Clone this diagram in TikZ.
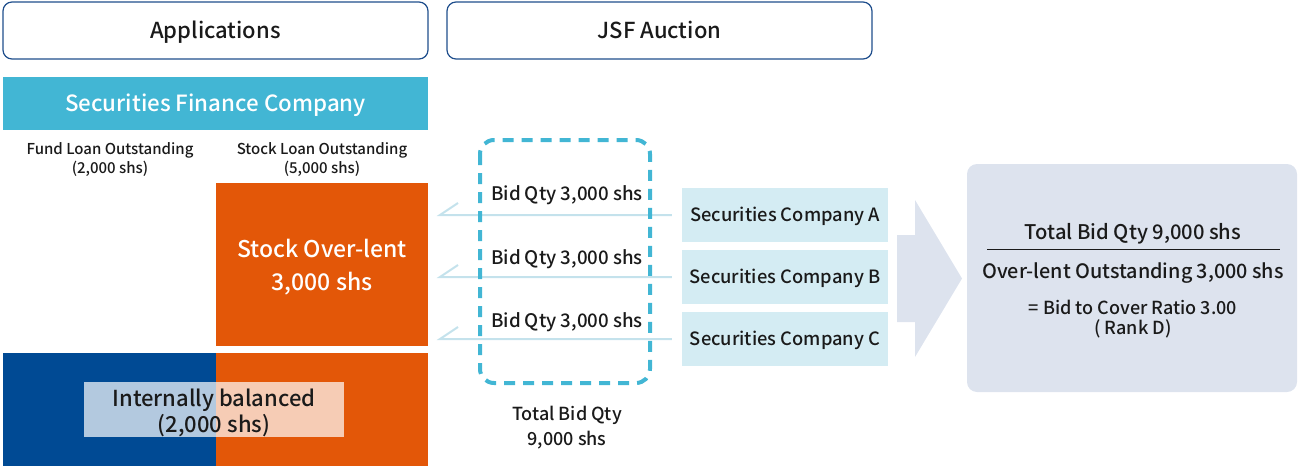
\documentclass[tikz,border=0pt]{standalone}
\usepackage{fontspec}
\setmainfont{Noto Sans CJK JP}[UprightFont={* Medium}, BoldFont={* Bold}]
\usetikzlibrary{calc}
\definecolor{hdrblue}{HTML}{1F4E8C}
\definecolor{sfcblue}{HTML}{42B6D4}
\definecolor{lendorange}{HTML}{E35708}
\definecolor{fundblue}{HTML}{004A94}
\definecolor{compblue}{HTML}{D4ECF3}
\definecolor{bidcol}{HTML}{C4E2EC}
\definecolor{resgray}{HTML}{DDE3EE}
\definecolor{txt}{HTML}{1A1A1A}
\def\fs#1#2{\fontsize{#1}{#2}\selectfont}
\tikzset{
	header/.style={draw=hdrblue, line width=1.2pt, rounded corners=9pt, minimum width=425pt, minimum height=57pt, font=\fs{22}{26}, text=txt, text height=20.5pt, text depth=4.4pt},
	compbox/.style={fill=compblue, minimum width=206pt, minimum height=54pt, font=\fs{18.3}{22}, text=txt, text height=17.1pt, text depth=3.7pt},
	bidlabel/.style={font=\fs{18.7}{22}, text=txt, text height=17.5pt, text depth=3.8pt},
	smalltxt/.style={font=\fs{15}{19}, text=txt, align=center},
	bidarrow/.style={draw=bidcol, line width=2pt},
	restxt/.style={text=txt, font=\fs{20.2}{24}, text height=18.9pt, text depth=4.1pt}
}

\begin{document}
\begin{tikzpicture}[x=1pt, y=-1pt]
			%%%%% START %%%%%
			\useasboundingbox (0,0) rectangle (1300,471);
			
			\node[header] (app) at (215.5, 30.5) {Applications};
			\node[header] (jsf) at (659.5, 30.5) {JSF Auction};
			
			\node[fill=sfcblue, text=white, minimum width=425pt, minimum height=53pt, font=\fs{22.3}{27}, text height=20.9pt, text depth=4.5pt] (sfc) at (215.5, 103.5) {Securities Finance Company};
			\node[smalltxt] (fund) at (110, 160) {Fund Loan Outstanding\\(2,000 shs)};
			\node[smalltxt] (stock) at (322, 160) {Stock Loan Outstanding\\(5,000 shs)};
			
			\fill[lendorange] (216, 183) rectangle (428, 346);
			\node[text=white, align=center, font=\fs{23}{33}] (over) at (322, 267) {Stock Over-lent\\3,000 shs};
			
			\fill[fundblue] (3, 353) rectangle (216, 466);
			\fill[lendorange] (216, 353) rectangle (428, 466);
			\fill[white, opacity=0.7] (84, 382) rectangle (344, 437);
			\node[text=txt, align=center, font=\fs{22}{26}] (bal) at (214, 412.5) {Internally balanced\\(2,000 shs)};
			
			\node[compbox] (secA) at (785, 215) {Securities Company A};
			\node[compbox] (secB) at (785, 277) {Securities Company B};
			\node[compbox] (secC) at (785, 339) {Securities Company C};
			
			\coordinate (tipA) at (440, 215);
			\coordinate (tipB) at (440, 277);
			\coordinate (tipC) at (440, 339);
			\draw[bidarrow] ([xshift=-10pt]secA.west) -- (tipA) -- ++(18, -12);
			\draw[bidarrow] ([xshift=-10pt]secB.west) -- (tipB) -- ++(18, -12);
			\draw[bidarrow] ([xshift=-10pt]secC.west) -- (tipC) -- ++(18, -12);
			
			\draw[draw=sfcblue, line width=4pt, rounded corners=14pt, dash pattern=on 11pt off 8pt] (480, 140) rectangle (650, 383);
			\node[bidlabel] (bidA) at (567, 194) {Bid Qty 3,000 shs};
			\node[bidlabel] (bidB) at (567, 258) {Bid Qty 3,000 shs};
			\node[bidlabel] (bidC) at (567, 321) {Bid Qty 3,000 shs};
			\node[smalltxt, font=\fs{18}{25}] (total) at (567, 428) {Total Bid Qty\\9,000 shs};
			
			\fill[resgray] (897, 235) -- (915, 235) -- (915, 200) -- (962, 278.5) -- (915, 357) -- (915, 322) -- (897, 322) -- cycle;
			\fill[resgray, rounded corners=10pt] (967, 164) rectangle (1297, 392);
			
			\node[restxt] (num) at (1133, 232) {Total Bid Qty 9,000 shs};
			\draw[txt, line width=1.5pt] (987, 249.5) -- (1280, 249.5);
			\node[restxt, font=\fs{19.8}{24}] (den) at (1133, 271) {Over-lent Outstanding 3,000 shs};
			\node[text=txt, font=\fs{18}{20}, align=center] (ratio) at (1133, 319.5) {= Bid to Cover Ratio 3.00\\( Rank D)};
			%%%%% END %%%%%
\end{tikzpicture}
\end{document}
